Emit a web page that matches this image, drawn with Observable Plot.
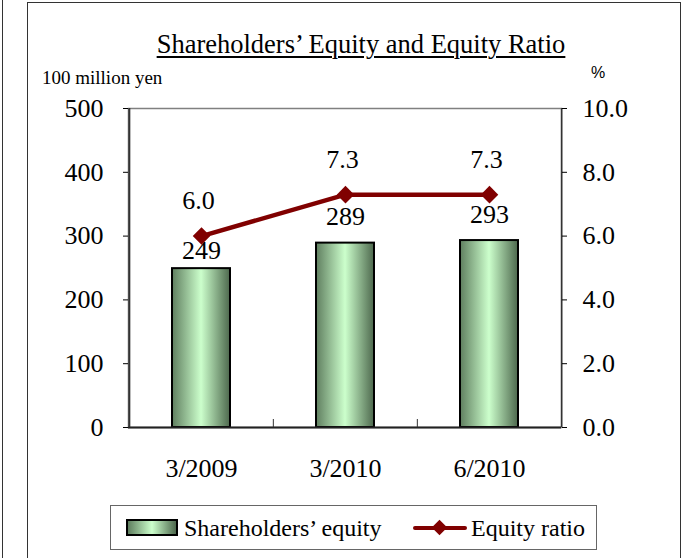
<!DOCTYPE html>
<html>
<head>
<meta charset="utf-8">
<script src="https://cdn.jsdelivr.net/npm/d3@7"></script>
<script src="https://cdn.jsdelivr.net/npm/@observablehq/plot@0.6"></script>
<style>
  html, body { margin: 0; padding: 0; background: #fff; }
  #wrap { position: relative; width: 700px; height: 558px; overflow: hidden; background: #fff;
          font-family: "Liberation Serif", "Times New Roman", serif; color: #000; }
  .abs { position: absolute; line-height: 1; white-space: nowrap; }
</style>
</head>
<body>
<div id="wrap">
  <div class="abs" style="left:2px;top:0;width:0;height:558px;border-left:1.5px solid #333;"></div>
  <div class="abs" style="left:27px;top:2px;width:652px;height:580px;border:1.5px solid #333;"></div>
  <div class="abs" id="title" style="left:61px;top:31px;width:600px;text-align:center;font-size:26.5px;">
    <span style="text-decoration:underline;text-underline-offset:3px;text-decoration-thickness:1.5px;">Shareholders’ Equity and Equity Ratio</span>
  </div>
  <div class="abs" id="unitL" style="left:42px;top:68px;font-size:19px;">100 million yen</div>
  <div class="abs" id="unitR" style="left:591px;top:65px;font-size:16px;font-family:'Liberation Sans',Arial,sans-serif;">%</div>
  <div class="abs" id="chart" style="left:0;top:85px;"></div>
  <div class="abs" id="legend" style="left:110px;top:505px;width:485px;height:43px;border:1.5px solid #666;background:#fff;font-size:24px;">
    <div class="abs" style="left:15px;top:13px;width:48px;height:13px;border:2px solid #000;background:linear-gradient(to right,#5f7e5f,#ccffcc 50%,#4d684d);"></div>
    <div class="abs" style="left:73px;top:10px;">Shareholders’ equity</div>
    <div class="abs" style="left:302px;top:20px;width:54px;height:4px;background:#800000;border-radius:2px;"></div>
    <div class="abs" style="left:323px;top:16px;width:11px;height:11px;background:#800000;transform:rotate(45deg);"></div>
    <div class="abs" style="left:360px;top:10px;">Equity ratio</div>
  </div>
</div>
<script>
const categories = ["3/2009", "3/2010", "6/2010"];
const equity = [249, 289, 293];
const ratio = [6.0, 7.3, 7.3];
const leftTicks = [0, 100, 200, 300, 400, 500];
const rightTicks = [0, 2, 4, 6, 8, 10];

const leftMax = 500, rightMax = 10;
const K = leftMax / rightMax; // map ratio onto left scale
const rows = categories.map((c, i) => ({c, equity: equity[i], ratio: ratio[i], r: ratio[i] * K, i}));

const W = 700, H = 400, mL = 128, mR = 139, mT = 23, mB = 58;
const step = (W - mL - mR) / categories.length;

const defs = () => {
  const d = d3.create("svg:defs");
  const g = d.append("linearGradient").attr("id", "barGrad")
    .attr("x1", 0).attr("x2", 1).attr("y1", 0).attr("y2", 0);
  g.append("stop").attr("offset", "0%").attr("stop-color", "#5f7e5f");
  g.append("stop").attr("offset", "50%").attr("stop-color", "#ccffcc");
  g.append("stop").attr("offset", "100%").attr("stop-color", "#4d684d");
  return d.node();
};

const chart = Plot.plot({
  width: W, height: H,
  marginLeft: mL, marginRight: mR, marginTop: mT, marginBottom: mB,
  style: {fontFamily: "'Liberation Serif','Times New Roman',serif", fontSize: "26px", background: "transparent", overflow: "visible", color: "#000"},
  x: {type: "band", domain: categories, paddingInner: 0.6, paddingOuter: 0.3, label: null},
  y: {domain: [0, leftMax], label: null},
  marks: [
    defs,
    Plot.frame({stroke: "#808080", strokeWidth: 1.5}),
    Plot.barY(rows, {x: "c", y: "equity", fill: "url(#barGrad)", stroke: "#000", strokeWidth: 2}),
    Plot.ruleY([0], {stroke: "#222", strokeWidth: 2}),
    Plot.ruleX([categories[0]], {dx: -step / 2, stroke: "#333", strokeWidth: 2}),
    Plot.ruleX([categories[categories.length - 1]], {dx: step / 2, stroke: "#333", strokeWidth: 1.5}),
    Plot.ruleX(categories.slice(1), {dx: -step / 2, y1: 0, y2: 0, insetBottom: 8, stroke: "#333", strokeWidth: 1}),
    Plot.axisY(leftTicks, {anchor: "left", tickSize: 5, tickPadding: 20, label: null, fontSize: 26, tickFormat: d => String(d)}),
    Plot.axisY(rightTicks.map(v => v * K), {anchor: "right", tickSize: 5, tickPadding: 16, label: null, fontSize: 26, tickFormat: d => (d / K).toFixed(1)}),
    Plot.axisX({tickSize: 0, tickPadding: 31, label: null, fontSize: 26}),
    Plot.line(rows, {x: "c", y: "r", stroke: "#800000", strokeWidth: 4.5}),
    Plot.dot(rows, {x: "c", y: "r", symbol: "square", fill: "#800000", r: 7, rotate: 45}),
    Plot.text(rows.filter(d => d.i === 0), {x: "c", y: "equity", text: d => String(d.equity), dy: -18, fontSize: 26}),
    Plot.text(rows.filter(d => d.i !== 0), {x: "c", y: "equity", text: d => String(d.equity), dy: -26, fontSize: 26}),
    Plot.text(rows, {x: "c", y: "r", text: d => d.ratio.toFixed(1), dy: -35, dx: -3, fontSize: 26})
  ]
});
document.getElementById("chart").appendChild(chart);
</script>
</body>
</html>
